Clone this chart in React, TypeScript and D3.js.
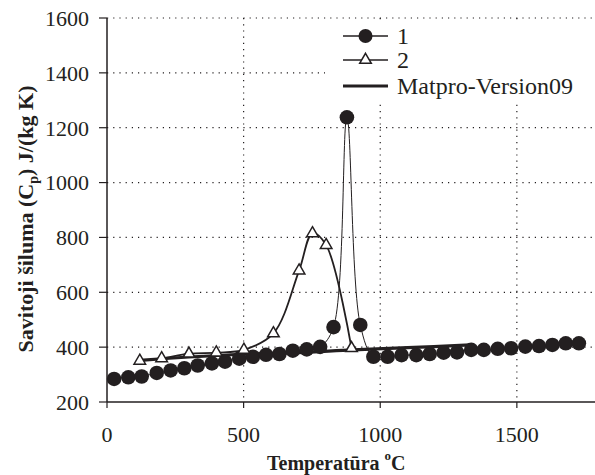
import React from "react";
import * as d3 from "d3";

const s1T = [26, 78, 127, 182, 233, 283, 332, 384, 432, 484, 534, 582, 631, 680, 731, 780, 829, 878, 927, 975, 1027, 1078, 1132, 1181, 1232, 1281, 1333, 1379, 1430, 1479, 1531, 1581, 1630, 1679, 1727];
const s1V = [284, 290, 293, 306, 315, 323, 333, 341, 347, 358, 365, 372, 375, 387, 392, 401, 473, 1238, 481, 365, 365, 371, 371, 375, 380, 381, 390, 390, 394, 396, 402, 404, 408, 414, 414];

const s2T = [120, 200, 300, 400, 501, 609, 703, 752, 802, 895];
const s2V = [350, 359, 376, 380, 390, 450, 679, 815, 772, 396];

const mpT = [120, 300, 500, 700, 900, 1100, 1330];
const mpV = [352, 364, 374, 380, 390, 398, 408];

const xTicks = [0, 500, 1000, 1500];
const yTicks = [200, 400, 600, 800, 1000, 1200, 1400, 1600];
const legendLabels = ["1", "2", "Matpro-Version09"];

const W = 595, H = 475;
const FONT = "Liberation Serif, Times New Roman, serif";
const INK = "#231f20";

export default function App() {
  const x = d3.scaleLinear().domain([0, 1786]).range([107, 595]);
  const y = d3.scaleLinear().domain([200, 1600]).range([402, 18]);
  const curve = d3.curveCatmullRom.alpha(0.5);
  const line = d3.line<[number, number]>().x(d => x(d[0])).y(d => y(d[1])).curve(curve);
  const s1: [number, number][] = s1T.map((t, i) => [t, s1V[i]]);
  const s2: [number, number][] = s2T.map((t, i) => [t, s2V[i]]);
  const mp: [number, number][] = mpT.map((t, i) => [t, mpV[i]]);
  const tri = d3.symbol().type(d3.symbolTriangle).size(58)();
  const x0 = x.range()[0], x1 = x.range()[1];
  const yb = y.range()[0], yt = y.range()[1];
  const ts = { fontFamily: FONT };

  const legY = [36, 60, 86];
  return (
    <svg width={W} height={H} style={{ position: "absolute", left: 0, top: 0, background: "#fff", fontFamily: FONT }}>
      {yTicks.filter(v => v > 200).map(v => (
        <line key={"gy" + v} x1={x0} x2={x1} y1={y(v)} y2={y(v)} stroke={INK} strokeWidth={1.2} strokeDasharray="1.2,5" />
      ))}
      {xTicks.filter(v => v > 0).map(v => (
        <line key={"gx" + v} x1={x(v)} x2={x(v)} y1={yt} y2={yb} stroke={INK} strokeWidth={1.2} strokeDasharray="1.2,5" />
      ))}
      <rect x={325} y={22} width={270} height={82} fill="#fff" />
      <line x1={x0} x2={x1} y1={yb} y2={yb} stroke={INK} strokeWidth={1.5} />
      <line x1={x0} x2={x0} y1={yt} y2={yb} stroke={INK} strokeWidth={1.5} />
      {yTicks.map(v => (
        <g key={"yt" + v}>
          <line x1={x0 - 8} x2={x0} y1={y(v)} y2={y(v)} stroke={INK} strokeWidth={1.2} />
          <text style={ts} x={89} y={y(v)} dy="0.36em" textAnchor="end" fontSize={22} fill={INK}>{v}</text>
        </g>
      ))}
      {xTicks.map(v => (
        <g key={"xt" + v}>
          <line x1={x(v)} x2={x(v)} y1={yb} y2={yb + 6} stroke={INK} strokeWidth={1.2} />
          <text style={ts} x={x(v)} y={442} textAnchor="middle" fontSize={22} fill={INK}>{v}</text>
        </g>
      ))}
      <text style={ts} x={267} y={470} textAnchor="start" fontSize={20} fontWeight="bold" fill={INK}>
        Temperatūra <tspan fontSize={13} dy={-10}>o</tspan><tspan dy={10}>C</tspan>
      </text>
      <text style={ts} transform="translate(33,219) rotate(-90)" textAnchor="middle" fontSize={22} fontWeight="bold" fill={INK}>
        Savitoji šiluma (C<tspan fontSize={14} dy={5}>p</tspan><tspan dy={-5}>) J/(kg K)</tspan>
      </text>
      <path d={line(mp) || ""} fill="none" stroke={INK} strokeWidth={3.2} />
      <path d={line(s1) || ""} fill="none" stroke={INK} strokeWidth={1} />
      <path d={line(s2) || ""} fill="none" stroke={INK} strokeWidth={1.8} />
      {s1.map((d, i) => (
        <circle key={"c" + i} cx={x(d[0])} cy={y(d[1])} r={7.3} fill={INK} />
      ))}
      {s2.map((d, i) => (
        <path key={"t" + i} d={tri || ""} transform={`translate(${x(d[0])},${y(d[1])})`} fill="#fff" stroke={INK} strokeWidth={1.5} />
      ))}
      {legendLabels.map((lab, i) => (
        <g key={"lg" + i}>
          <line x1={343} x2={388} y1={legY[i]} y2={legY[i]} stroke={INK} strokeWidth={i === 2 ? 3.2 : 1.3} />
          {i === 0 && <circle cx={365.5} cy={legY[i]} r={7} fill={INK} />}
          {i === 1 && <path d={tri || ""} transform={`translate(365.5,${legY[i]})`} fill="#fff" stroke={INK} strokeWidth={1.5} />}
          <text style={ts} x={397} y={legY[i]} dy="0.34em" fontSize={24} fill={INK}>{lab}</text>
        </g>
      ))}
    </svg>
  );
}
